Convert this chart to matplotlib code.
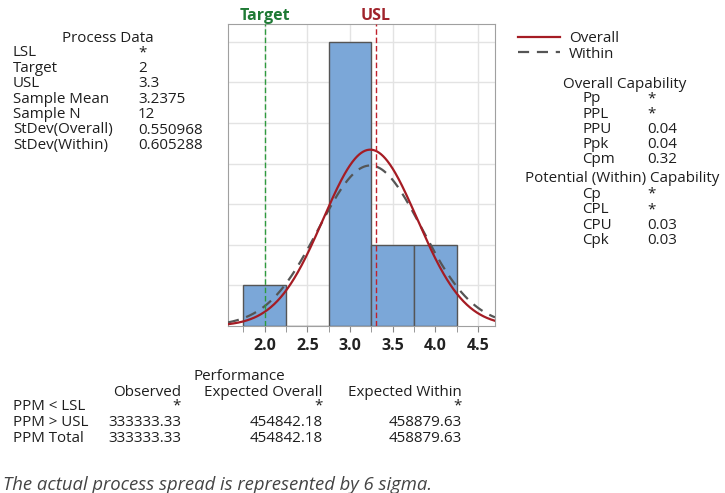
import numpy as np
import matplotlib
matplotlib.use('Agg')
import matplotlib.pyplot as plt

# data
bin_edges = [1.75, 2.25, 2.75, 3.25, 3.75, 4.25]
bin_counts = [1, 0, 7, 2, 2]
target = 2.0
usl = 3.3
mean = 3.2375
n = 12
sd_overall = 0.550968
sd_within = 0.605288
xticks = [2.0, 2.5, 3.0, 3.5, 4.0, 4.5]

process_labels = ['LSL', 'Target', 'USL', 'Sample Mean', 'Sample N', 'StDev(Overall)', 'StDev(Within)']
process_values = ['*', '2', '3.3', '3.2375', '12', '0.550968', '0.605288']
overall_labels = ['Pp', 'PPL', 'PPU', 'Ppk', 'Cpm']
overall_values = ['*', '*', '0.04', '0.04', '0.32']
within_labels = ['Cp', 'CPL', 'CPU', 'Cpk']
within_values = ['*', '*', '0.03', '0.03']
perf_rows = ['PPM < LSL', 'PPM > USL', 'PPM Total']
perf_cols = ['Observed', 'Expected Overall', 'Expected Within']
perf_observed = ['*', '333333.33', '333333.33']
perf_exp_overall = ['*', '454842.18', '454842.18']
perf_exp_within = ['*', '458879.63', '458879.63']

plt.rcParams['font.family'] = ['Open Sans', 'DejaVu Sans']
W, H = 725, 493
fig = plt.figure(figsize=(W / 100, H / 100), dpi=100)
fig.patch.set_facecolor('white')

def px(x, y):
    return x / W, 1 - y / H

txt = '#1e1e1e'
fs = 10.9

def put(x, y, s, ha='left', **kw):
    # +2 px: va='center' sits a bit high for this font
    fx, fy = px(x, y + 2)
    kw.setdefault('color', txt)
    kw.setdefault('fontsize', fs)
    fig.text(fx, fy, s, ha=ha, va='center', **kw)

# histogram axes
l, r, t, b = 228, 495, 24, 326
ax = fig.add_axes([l / W, 1 - b / H, (r - l) / W, (b - t) / H])
widths = np.diff(bin_edges)
ax.bar(bin_edges[:-1], bin_counts, width=widths, align='edge',
       color='#7BA7D8', edgecolor='#555555', linewidth=1.0, zorder=2)

xs = np.linspace(1.57, 4.70, 400)
scale = n * widths[0]
y_over = scale * np.exp(-0.5 * ((xs - mean) / sd_overall) ** 2) / (sd_overall * np.sqrt(2 * np.pi))
y_within = scale * np.exp(-0.5 * ((xs - mean) / sd_within) ** 2) / (sd_within * np.sqrt(2 * np.pi))
ax.plot(xs, y_within, color='#555555', linewidth=1.6, dashes=(5, 3.5), zorder=3)
ax.plot(xs, y_over, color='#A51C24', linewidth=1.6, zorder=4)

ax.axvline(target, color='#2E9A3E', linewidth=1, linestyle=(0, (4, 2)), zorder=5)
ax.axvline(usl, color='#C0202A', linewidth=1, linestyle=(0, (4, 2)), zorder=5)

ax.set_xlim(1.57, 4.70)
ax.set_ylim(0, 7.44)
ax.set_xticks(xticks)
ax.set_xticklabels([f'{v:.1f}' for v in xticks], fontsize=11.5, fontweight='bold', color='#222222')
ax.set_xticks(bin_edges, minor=True)
ax.set_yticks(range(1, 8))
ax.set_yticklabels([])
ax.tick_params(axis='y', length=0)
ax.tick_params(axis='x', which='both', length=4, color='#888888', pad=5)
ax.grid(True, color='#E3E3E3', linewidth=1, zorder=0)
ax.set_axisbelow(True)
for s in ax.spines.values():
    s.set_color('#A0A0A0')

ax.text(target, 1.0, 'Target', transform=ax.get_xaxis_transform(), ha='center', va='bottom',
        color='#1F7A35', fontsize=11.5, fontweight='bold')
ax.text(usl, 1.0, 'USL', transform=ax.get_xaxis_transform(), ha='center', va='bottom',
        color='#A0232B', fontsize=11.5, fontweight='bold')

# process data
put(108, 37, 'Process Data', ha='center')
for i, (lab, val) in enumerate(zip(process_labels, process_values)):
    y = 51 + i * 15.4
    put(13, y, lab)
    put(138, y, val)

# legend
fig.add_artist(plt.Line2D([518 / W, 560 / W], [1 - 37 / H] * 2, color='#A51C24', linewidth=1.6))
fig.add_artist(plt.Line2D([518 / W, 560 / W], [1 - 52 / H] * 2, color='#555555', linewidth=1.6, dashes=(5, 3.5)))
put(569, 37, 'Overall')
put(569, 52, 'Within')

# capability
put(625, 82, 'Overall Capability', ha='center')
for i, (lab, val) in enumerate(zip(overall_labels, overall_values)):
    y = 97 + i * 15.2
    put(582, y, lab)
    put(647, y, val)
put(622, 176, 'Potential (Within) Capability', ha='center')
for i, (lab, val) in enumerate(zip(within_labels, within_values)):
    y = 192 + i * 15.6
    put(582, y, lab)
    put(647, y, val)

# performance
put(239, 375, 'Performance', ha='center')
col_x = [181, 323, 462]
cols = [perf_observed, perf_exp_overall, perf_exp_within]
for cx, head, vals in zip(col_x, perf_cols, cols):
    put(cx, 390, head, ha='right')
    for j, v in enumerate(vals):
        put(cx, 404 + j * 16, v, ha='right')
for j, row in enumerate(perf_rows):
    put(13, 404 + j * 16, row)

put(3, 483, 'The actual process spread is represented by 6 sigma.', fontsize=13.3,
    style='italic', color='#444444')

fig.savefig('out.png', dpi=100)
